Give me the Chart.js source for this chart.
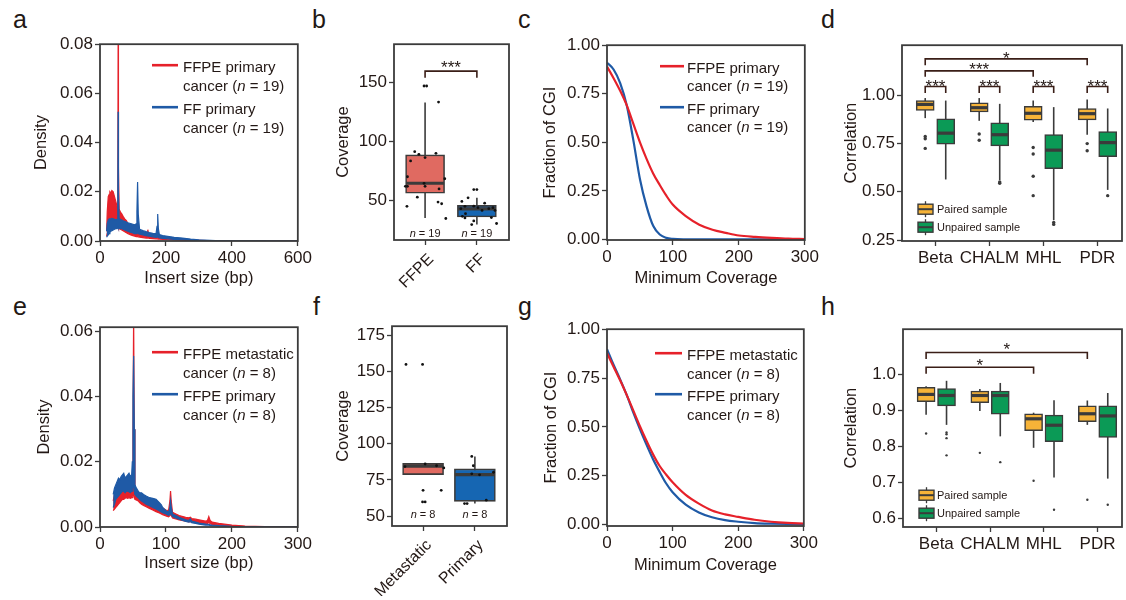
<!DOCTYPE html>
<html lang="en">
<head>
<meta charset="utf-8">
<title>Figure</title>
<script src="https://cdn.jsdelivr.net/npm/chart.js@4.4.1/dist/chart.umd.min.js"></script>
<style>
  html, body { margin: 0; padding: 0; background: #fff; }
  body { position: relative; width: 1126px; height: 600px; overflow: hidden; font-family: "Liberation Sans", Arial, sans-serif; }
  canvas { position: absolute; }
  .letra { position: absolute; font-size: 25px; line-height: 25px; color: #231815; }
</style>
</head>
<body>
<div class="letra" style="left:13px;top:7px">a</div>
<div class="letra" style="left:312px;top:7px">b</div>
<div class="letra" style="left:518px;top:7px">c</div>
<div class="letra" style="left:821px;top:7px">d</div>
<div class="letra" style="left:13px;top:294px">e</div>
<div class="letra" style="left:313px;top:294px">f</div>
<div class="letra" style="left:518px;top:294px">g</div>
<div class="letra" style="left:821px;top:294px">h</div>
<script>
/* ---------- a: insert size, FFPE vs FF ---------- */
const aX = [20, 22, 25, 28, 30, 33, 36, 40, 44, 48, 52, 54, 55, 56, 58, 62, 66, 70, 75, 80, 85, 90, 95, 100, 105,
  110, 112, 114, 116, 120, 130, 140, 143, 145, 147, 150, 160, 170, 173, 175, 177, 180, 190, 200, 225, 250, 275, 300, 350, 400, 600];
const aFfpeHi = [0.004, 0.012, 0.018, 0.019, 0.02, 0.0195, 0.0205, 0.02, 0.018, 0.016, 0.014, 0.02, 0.085, 0.03, 0.013,
  0.0117, 0.011, 0.01, 0.009, 0.0083, 0.007, 0.006, 0.005, 0.0045, 0.004, 0.0036, 0.0035, 0.0035, 0.0034, 0.0032,
  0.0028, 0.0026, 0.0035, 0.0046, 0.003, 0.0024, 0.002, 0.0018, 0.0018, 0.0018, 0.0017, 0.0016, 0.0014, 0.0012,
  0.0008, 0.0006, 0.0004, 0.0003, 0.0001, 0.00005, 0];
const aFfpeLo = [0.002, 0.003, 0.004, 0.0045, 0.005, 0.005, 0.0055, 0.0055, 0.0055, 0.0055, 0.0055, 0.0055, 0.006, 0.0055, 0.005,
  0.0048, 0.0045, 0.0042, 0.0038, 0.0034, 0.003, 0.0027, 0.0024, 0.0022, 0.002, 0.0018, 0.0018, 0.0018, 0.0017, 0.0016,
  0.0014, 0.0012, 0.0012, 0.0013, 0.0012, 0.0011, 0.001, 0.0009, 0.0009, 0.0009, 0.0008, 0.0008, 0.0007, 0.0006,
  0.0004, 0.0003, 0.0002, 0.0001, 0, 0, 0];
const aFfHi = [0.004, 0.007, 0.0085, 0.009, 0.0088, 0.009, 0.0092, 0.009, 0.0088, 0.0086, 0.0088, 0.015, 0.0525, 0.02, 0.0092,
  0.0088, 0.0085, 0.0082, 0.008, 0.0077, 0.0074, 0.0072, 0.007, 0.0068, 0.0066, 0.007, 0.012, 0.024, 0.011, 0.0048,
  0.0042, 0.0038, 0.0037, 0.0036, 0.0035, 0.0034, 0.0031, 0.003, 0.006, 0.011, 0.005, 0.0026, 0.0022, 0.002,
  0.0015, 0.0012, 0.0008, 0.0005, 0.0002, 0.00005, 0];
const aFfLo = [0.0015, 0.002, 0.0025, 0.003, 0.0035, 0.004, 0.0042, 0.0045, 0.0048, 0.005, 0.005, 0.005, 0.006, 0.0055, 0.0052,
  0.005, 0.005, 0.0048, 0.0045, 0.0042, 0.004, 0.0037, 0.0035, 0.0033, 0.003, 0.003, 0.0035, 0.004, 0.003, 0.0028,
  0.0025, 0.0022, 0.0021, 0.0021, 0.002, 0.002, 0.0017, 0.0015, 0.0016, 0.002, 0.0015, 0.0013, 0.0011, 0.001,
  0.0007, 0.0005, 0.0003, 0.0002, 0.0001, 0, 0];
const aLegenda = [["FFPE primary", "cancer (n = 19)"], ["FF primary", "cancer (n = 19)"]];
const aTicksX = [0, 200, 400, 600];
const aTicksY = [0, 0.02, 0.04, 0.06, 0.08];

/* ---------- b: coverage FFPE vs FF ---------- */
const bCats = ["FFPE", "FF"];
const bLo = [35.2, 29.6];
const bQ1 = [56.1, 36];
const bMed = [64.6, 42.8];
const bQ3 = [88.6, 45.8];
const bHi = [133, 52.2];
const bPtsFfpe = [[-0.2, 91.3], [-0.12, 89.1], [0.21, 89.9], [-0.28, 83.5], [0, 86.3], [-0.34, 70.1], [-0.34, 62], [-0.38, 62],
  [-0.02, 64.5], [0, 62], [0.38, 68.4], [0.27, 59.8], [-0.15, 52.8], [-0.35, 45], [0.25, 48.6], [0.32, 47.2], [0.4, 34.7],
  [0.26, 133.4], [-0.02, 147], [0.03, 147]];
const bPtsFf = [[-0.06, 59.2], [0, 59.2], [-0.29, 49.2], [-0.17, 52.2], [-0.06, 45.2], [-0.23, 45], [-0.31, 43], [0.02, 43.9],
  [0.15, 47.7], [0.23, 43], [0.31, 43.9], [0.35, 41.6], [0.1, 41.6], [-0.22, 38.8], [-0.28, 36.6], [-0.23, 35.2],
  [-0.06, 32.7], [-0.1, 29.6], [0.28, 35.5], [0.38, 30.5]];
const bN = ["n = 19", "n = 19"];
const bTicksY = [50, 100, 150];

/* ---------- c: fraction of CGI, FFPE vs FF ---------- */
const cX = [0, 10, 20, 30, 40, 50, 60, 70, 80, 90, 100, 120, 140, 160, 180, 200, 225, 250, 275, 300];
const cFfpe = [0.89, 0.83, 0.765, 0.69, 0.595, 0.5, 0.415, 0.34, 0.28, 0.225, 0.178, 0.119, 0.076, 0.05, 0.034, 0.02, 0.013, 0.008, 0.004, 0.002];
const cFf = [0.91, 0.875, 0.805, 0.69, 0.51, 0.31, 0.17, 0.07, 0.025, 0.008, 0.003, 0.0005, 0, 0, 0, 0, 0, 0, 0, 0];
const cTicksX = [0, 100, 200, 300];
const cTicksY = [0, 0.25, 0.5, 0.75, 1];

/* ---------- d: correlation, primary ---------- */
const dCats = ["Beta", "CHALM", "MHL", "PDR"];
const dPairLo = [0.882, 0.868, 0.862, 0.796];
const dPairQ1 = [0.922, 0.914, 0.872, 0.873];
const dPairMed = [0.953, 0.936, 0.907, 0.905];
const dPairQ3 = [0.973, 0.961, 0.943, 0.931];
const dPairHi = [0.986, 0.986, 0.973, 0.978];
const dPairOut = [[0, 0.787], [0, 0.775], [0, 0.725], [1, 0.8], [1, 0.767], [2, 0.73], [2, 0.696], [2, 0.581], [2, 0.48], [3, 0.75], [3, 0.713]];
const dUnpLo = [0.564, 0.561, 0.353, 0.51];
const dUnpQ1 = [0.747, 0.738, 0.62, 0.682];
const dUnpMed = [0.804, 0.796, 0.716, 0.755];
const dUnpQ3 = [0.878, 0.858, 0.797, 0.812];
const dUnpHi = [0.973, 0.956, 0.939, 0.932];
const dUnpOut = [[1, 0.551], [1, 0.544], [2, 0.341], [2, 0.331], [3, 0.48]];
const dTicksY = [0.25, 0.5, 0.75, 1];

/* ---------- e: insert size, metastatic vs primary ---------- */
const eX = [20, 22, 24, 26, 28, 30, 32, 34, 36, 38, 40, 42, 44, 46, 48, 49, 50, 51, 52, 53, 55, 58, 60, 63, 66, 70, 75, 80, 85, 90, 93,
  95, 100, 104, 106, 107, 108, 110, 115, 120, 130, 135, 137, 139, 145, 150, 160, 163, 165, 167, 170, 180, 200, 220, 250, 300];
const eMetaHi = [0.008, 0.01, 0.011, 0.0115, 0.012, 0.0118, 0.012, 0.0125, 0.012, 0.0118, 0.012, 0.0115, 0.012, 0.011, 0.0115, 0.013,
  0.03, 0.065, 0.03, 0.012, 0.011, 0.0105, 0.01, 0.0095, 0.009, 0.0085, 0.008, 0.0075, 0.007, 0.0065, 0.006,
  0.0058, 0.0052, 0.005, 0.008, 0.011, 0.008, 0.0045, 0.004, 0.0035, 0.003, 0.0028, 0.003, 0.0026, 0.0024, 0.0022,
  0.0018, 0.002, 0.0032, 0.002, 0.0015, 0.0011, 0.0006, 0.0003, 0.0001, 0];
const eMetaLo = [0.005, 0.0055, 0.006, 0.0065, 0.007, 0.0075, 0.008, 0.0085, 0.0085, 0.0088, 0.009, 0.0088, 0.009, 0.0088, 0.009, 0.009,
  0.0095, 0.01, 0.0095, 0.0085, 0.0083, 0.008, 0.0075, 0.007, 0.0066, 0.0062, 0.0057, 0.0052, 0.0047, 0.0043, 0.004,
  0.0038, 0.0034, 0.0031, 0.0035, 0.005, 0.0035, 0.0028, 0.0025, 0.0022, 0.0018, 0.0016, 0.0017, 0.0015, 0.0013, 0.0012,
  0.001, 0.001, 0.0015, 0.001, 0.0008, 0.0006, 0.0003, 0.0001, 0, 0];
const ePrimHi = [0.01, 0.012, 0.013, 0.014, 0.015, 0.0145, 0.0155, 0.016, 0.0165, 0.015, 0.0155, 0.016, 0.0165, 0.0155, 0.016, 0.02,
  0.04, 0.0525, 0.03, 0.013, 0.012, 0.011, 0.0105, 0.0105, 0.01, 0.0095, 0.009, 0.0088, 0.0085, 0.0075, 0.0068,
  0.006, 0.005, 0.0045, 0.006, 0.008, 0.006, 0.004, 0.0035, 0.003, 0.0022, 0.002, 0.0025, 0.0018, 0.0015, 0.0012,
  0.0009, 0.0008, 0.0008, 0.0007, 0.0006, 0.0004, 0.0002, 0.0001, 0, 0];
const ePrimLo = [0.006, 0.007, 0.0085, 0.009, 0.0095, 0.01, 0.0105, 0.011, 0.011, 0.0105, 0.011, 0.011, 0.0108, 0.0105, 0.011, 0.011,
  0.012, 0.013, 0.012, 0.01, 0.0095, 0.009, 0.0085, 0.008, 0.0076, 0.007, 0.0065, 0.006, 0.0055, 0.005, 0.0046,
  0.0044, 0.004, 0.0036, 0.0038, 0.0045, 0.0038, 0.0032, 0.0028, 0.0024, 0.0017, 0.0015, 0.0017, 0.0013, 0.0011, 0.0009,
  0.0006, 0.0006, 0.0006, 0.0005, 0.0004, 0.0003, 0.0001, 0, 0, 0];
const eLegenda = [["FFPE metastatic", "cancer (n = 8)"], ["FFPE primary", "cancer (n = 8)"]];
const eTicksX = [0, 100, 200, 300];
const eTicksY = [0, 0.02, 0.04, 0.06];

/* ---------- f: coverage metastatic vs primary ---------- */
const fCats = ["Metastatic", "Primary"];
const fLo = [79.2, 58.7];
const fQ1 = [78.7, 60.2];
const fMed = [84.5, 78.6];
const fQ3 = [86.4, 82.6];
const fHi = [86.4, 91.2];
const fPtsMeta = [[-0.33, 154.7], [-0.01, 154.7], [-0.35, 84.2], [0.04, 86], [0.26, 84.8], [0.4, 83.3], [0, 67.8], [0.35, 67.8],
  [-0.01, 59.8], [0.04, 59.8]];
const fPtsPrim = [[-0.06, 91.2], [-0.03, 84.8], [-0.06, 79.2], [0.09, 78.5], [0.36, 80.3], [0.22, 61], [-0.2, 58.7], [-0.15, 58.7]];
const fN = ["n = 8", "n = 8"];
const fTicksY = [50, 75, 100, 125, 150, 175];

/* ---------- g: fraction of CGI, metastatic vs primary ---------- */
const gX = [0, 10, 20, 30, 40, 50, 60, 70, 80, 90, 100, 120, 140, 160, 180, 200, 225, 250, 275, 300];
const gMeta = [0.88, 0.81, 0.74, 0.665, 0.585, 0.505, 0.43, 0.36, 0.3, 0.255, 0.215, 0.15, 0.105, 0.07, 0.05, 0.037, 0.022, 0.012, 0.006, 0.003];
const gPrim = [0.9, 0.82, 0.745, 0.665, 0.575, 0.49, 0.41, 0.335, 0.27, 0.21, 0.164, 0.1, 0.06, 0.035, 0.02, 0.012, 0.005, 0.002, 0.0005, 0];

/* ---------- h: correlation, metastatic ---------- */
const hPairLo = [0.888, 0.899, 0.796, 0.86];
const hPairQ1 = [0.925, 0.922, 0.844, 0.869];
const hPairMed = [0.945, 0.942, 0.877, 0.891];
const hPairQ3 = [0.965, 0.954, 0.891, 0.913];
const hPairHi = [0.968, 0.96, 0.894, 0.928];
const hPairOut = [[0, 0.836], [1, 0.782], [2, 0.704], [3, 0.651]];
const hUnpLo = [0.86, 0.828, 0.713, 0.71];
const hUnpQ1 = [0.913, 0.89, 0.813, 0.825];
const hUnpMed = [0.942, 0.942, 0.859, 0.885];
const hUnpQ3 = [0.961, 0.954, 0.887, 0.913];
const hUnpHi = [0.983, 0.977, 0.929, 0.949];
const hUnpOut = [[0, 0.839], [0, 0.834], [0, 0.823], [0, 0.775], [1, 0.756], [2, 0.623], [3, 0.637]];
const hTicksY = [0.6, 0.7, 0.8, 0.9, 1];
const caixaLegenda = ["Paired sample", "Unpaired sample"];

/* ---------- estilo ---------- */
const tinta = "#231815";
const borda = "#3b3b3b";
const chaveCor = "#3a1e17";
const vermelho = "#E6212A";
const azul = "#1F5AA6";
const salmao = "#E06A61";
const azulCaixa = "#1666B2";
const laranja = "#F6B338";
const verde = "#0B9A56";
const familia = '"Liberation Sans", Arial, sans-serif';
const desvio = 0.19; // paired / unpaired offset inside a category

Chart.defaults.font.family = familia;
Chart.defaults.font.size = 17;
Chart.defaults.color = tinta;
Chart.defaults.animation = false;
Chart.defaults.plugins.legend.display = false;
Chart.defaults.plugins.tooltip.enabled = false;

// caixa em volta da área do gráfico
Chart.register({
  id: "moldura",
  afterDatasetsDraw(chart) {
    const a = chart.chartArea, ctx = chart.ctx;
    ctx.save();
    ctx.strokeStyle = borda;
    ctx.lineWidth = 1.8;
    ctx.strokeRect(a.left, a.top, a.right - a.left, a.bottom - a.top);
    ctx.restore();
  }
});

function eixo(min, max, ticks, fmt, titulo) {
  return {
    type: "linear", min, max, offset: false,
    afterBuildTicks: s => { s.ticks = ticks.map(v => ({ value: v })); },
    ticks: { callback: fmt, autoSkip: false, maxRotation: 0, padding: 2, color: tinta, font: { size: 17 } },
    grid: { display: true, offset: false, drawOnChartArea: false, drawTicks: true, tickLength: 5, tickColor: borda, tickWidth: 1.3 },
    border: { display: false },
    title: titulo ? { display: true, text: titulo, padding: 0, color: tinta, font: { size: 16.5 } } : { display: false }
  };
}

// eixo de categorias com rótulos inclinados (b, f)
function eixoInclinado(nomes) {
  const e = eixo(-0.6, 1.62, [0, 1], v => nomes[v]);
  e.ticks.minRotation = 45;
  e.ticks.maxRotation = 45;
  e.ticks.padding = 5;
  e.ticks.labelOffset = 6;
  e.ticks.font = { size: 16 };
  return e;
}

function painel(area, yw, xh, config, pr = 16) {
  const pt = 10;
  const largura = area.R - area.L + yw + pr;
  const altura = area.B - area.T + pt + xh;
  const canvas = document.createElement("canvas");
  canvas.width = largura;
  canvas.height = altura;
  canvas.style.left = (area.L - yw) + "px";
  canvas.style.top = (area.T - pt) + "px";
  document.body.appendChild(canvas);
  config.options.responsive = false;
  config.options.devicePixelRatio = 1;
  config.options.layout = { padding: { left: 0, top: pt, right: pr, bottom: 0 } };
  config.options.scales.x.afterFit = s => { s.height = xh; };
  config.options.scales.y.afterFit = s => { s.width = yw; };
  return new Chart(canvas, config);
}

/* ---------- helpers de desenho ---------- */
// texto com o "n" em itálico
function textoMisto(ctx, s, x, y, tam, alinhar) {
  const partes = s.split(/(\bn\b(?= =))/);
  const fonte = it => `${it ? "italic " : ""}${tam}px ${familia}`;
  let w = 0;
  partes.forEach(p => { ctx.font = fonte(p === "n"); w += ctx.measureText(p).width; });
  let cx = alinhar === "center" ? x - w / 2 : x;
  ctx.fillStyle = tinta;
  ctx.textAlign = "left";
  ctx.textBaseline = "alphabetic";
  partes.forEach(p => {
    ctx.font = fonte(p === "n");
    ctx.fillText(p, cx, y);
    cx += ctx.measureText(p).width;
  });
}

function faixa(xs, hi, lo, cor, ordem) {
  const linha = { borderColor: cor, borderWidth: 1.2, pointRadius: 0, tension: 0, order: ordem };
  return [
    { ...linha, data: xs.map((x, i) => ({ x, y: hi[i] })), fill: "+1", backgroundColor: cor },
    { ...linha, data: xs.map((x, i) => ({ x, y: lo[i] })), fill: false }
  ];
}

function curva(xs, ys, cor) {
  return { data: xs.map((x, i) => ({ x, y: ys[i] })), borderColor: cor, borderWidth: 2.2, pointRadius: 0, cubicInterpolationMode: "monotone" };
}

function legendaLinhas(itens, cores, pos) {
  return {
    id: "legendaLinhas",
    afterDraw(chart) {
      const { ctx, chartArea: a } = chart;
      ctx.save();
      itens.forEach((linhas, k) => {
        const y0 = a.top + pos.y + k * pos.passo;
        ctx.strokeStyle = cores[k];
        ctx.lineWidth = 2.6;
        ctx.beginPath();
        ctx.moveTo(a.left + pos.x0, y0 - 1);
        ctx.lineTo(a.left + pos.x1, y0 - 1);
        ctx.stroke();
        linhas.forEach((t, j) => textoMisto(ctx, t, a.left + pos.tx, y0 + j * pos.linha + 5.4, 15));
      });
      ctx.restore();
    }
  };
}

// bigodes antes das caixas, mediana logo depois de cada conjunto de caixas
function caixas(grupos) {
  return {
    id: "caixas",
    beforeDatasetsDraw(chart) {
      const { ctx, scales: { x, y } } = chart;
      ctx.save();
      ctx.strokeStyle = borda;
      ctx.lineWidth = 1.6;
      grupos.forEach(g => g.xs.forEach((v, i) => {
        const px = x.getPixelForValue(v);
        ctx.beginPath();
        ctx.moveTo(px, y.getPixelForValue(g.lo[i]));
        ctx.lineTo(px, y.getPixelForValue(g.hi[i]));
        ctx.stroke();
      }));
      ctx.restore();
    },
    afterDatasetDraw(chart, args) {
      const g = grupos.find(q => q.dataset === args.index);
      if (!g) return;
      const { ctx, scales: { x, y } } = chart;
      ctx.save();
      ctx.strokeStyle = borda;
      ctx.lineWidth = 3.2;
      g.xs.forEach((v, i) => {
        const px = x.getPixelForValue(v), py = y.getPixelForValue(g.med[i]);
        ctx.beginPath();
        ctx.moveTo(px - g.largura / 2 + 0.5, py);
        ctx.lineTo(px + g.largura / 2 - 0.5, py);
        ctx.stroke();
      });
      ctx.restore();
    }
  };
}

function chaves(lista) {
  return {
    id: "chaves",
    afterDatasetsDraw(chart) {
      const { ctx, scales: { x, y } } = chart;
      ctx.save();
      ctx.strokeStyle = chaveCor;
      ctx.lineWidth = 1.6;
      ctx.fillStyle = tinta;
      ctx.font = `17px ${familia}`;
      ctx.textAlign = "center";
      ctx.textBaseline = "alphabetic";
      lista.forEach(c => {
        const x1 = x.getPixelForValue(c.x1), x2 = x.getPixelForValue(c.x2);
        const yl = y.getPixelForValue(c.y), yt = y.getPixelForValue(c.tip);
        ctx.beginPath();
        ctx.moveTo(x1, yt); ctx.lineTo(x1, yl); ctx.lineTo(x2, yl); ctx.lineTo(x2, yt);
        ctx.stroke();
        ctx.fillText(c.label, (x1 + x2) / 2, y.getPixelForValue(c.ly) + 10);
      });
      ctx.restore();
    }
  };
}

function rotulosN(textos, dy) {
  return {
    id: "rotulosN",
    afterDatasetsDraw(chart) {
      const { ctx, chartArea: a, scales: { x } } = chart;
      ctx.save();
      textos.forEach((t, i) => textoMisto(ctx, t, x.getPixelForValue(i), a.bottom - dy + 4, 11, "center"));
      ctx.restore();
    }
  };
}

function legendaCaixas(textos, cores, pos) {
  return {
    id: "legendaCaixas",
    afterDraw(chart) {
      const { ctx, chartArea: a } = chart;
      ctx.save();
      textos.forEach((t, k) => {
        const yc = a.top + pos.y + k * pos.passo, x0 = a.left + pos.x;
        ctx.strokeStyle = borda;
        ctx.lineWidth = 1.3;
        ctx.beginPath();
        ctx.moveTo(x0 + 7.5, yc - 8); ctx.lineTo(x0 + 7.5, yc + 8);
        ctx.stroke();
        ctx.fillStyle = cores[k];
        ctx.fillRect(x0, yc - 5, 15, 10);
        ctx.lineWidth = 1.4;
        ctx.strokeRect(x0, yc - 5, 15, 10);
        ctx.lineWidth = 2;
        ctx.beginPath();
        ctx.moveTo(x0, yc); ctx.lineTo(x0 + 15, yc);
        ctx.stroke();
        ctx.fillStyle = tinta;
        ctx.font = `11px ${familia}`;
        ctx.textAlign = "left";
        ctx.textBaseline = "alphabetic";
        ctx.fillText(t, a.left + pos.tx, yc + 4);
      });
      ctx.restore();
    }
  };
}

const pontos = (lista, base) => lista.map(([dx, v]) => ({ x: base + dx, y: v }));
const outliers = (lista, dx) => lista.map(([i, v]) => ({ x: i + dx, y: v }));
const fmt2 = v => v.toFixed(2);
const fmt1 = v => v.toFixed(1);
const fmt0 = v => String(v);

/* ---------- a ---------- */
painel({ L: 100, T: 42, R: 298, B: 241 }, 68, 47, {
  type: "line",
  data: { datasets: [...faixa(aX, aFfpeHi, aFfpeLo, vermelho, 2), ...faixa(aX, aFfHi, aFfLo, azul, 1)] },
  options: {
    scales: {
      x: eixo(0, 600, aTicksX, fmt0, "Insert size (bp)"),
      y: eixo(0, 0.08, aTicksY, fmt2, "Density")
    }
  },
  plugins: [legendaLinhas(aLegenda, [vermelho, azul], { x0: 52, x1: 78, tx: 83, y: 22, linha: 19, passo: 42 })]
});

/* ---------- b ---------- */
painel({ L: 394, T: 42, R: 509, B: 240 }, 60, 52, {
  type: "bar",
  data: {
    datasets: [
      { type: "scatter", order: 1, data: [...pontos(bPtsFfpe, 0), ...pontos(bPtsFf, 1)], pointRadius: 1.4, backgroundColor: "#111", borderWidth: 0 },
      { type: "bar", order: 2, grouped: false, barThickness: 39, borderSkipped: false, borderWidth: 1.6, borderColor: borda,
        backgroundColor: [salmao, azulCaixa], data: bCats.map((c, i) => ({ x: i, y: [bQ1[i], bQ3[i]] })) }
    ]
  },
  options: {
    scales: { x: eixoInclinado(bCats), y: eixo(16.5, 182.4, bTicksY, fmt0, "Coverage") }
  },
  plugins: [
    caixas([{ dataset: 1, xs: [0, 1], lo: bLo, hi: bHi, med: bMed, largura: 39 }]),
    chaves([{ x1: 0, x2: 1, y: 159.6, tip: 154, ly: 166.5, label: "***" }]),
    rotulosN(bN, 7.5)
  ]
});

/* ---------- c ---------- */
painel({ L: 607, T: 43, R: 805, B: 240 }, 66, 48, {
  type: "line",
  data: { datasets: [curva(cX, cFfpe, vermelho), curva(cX, cFf, azul)] },
  options: {
    scales: {
      x: eixo(0, 300, cTicksX, fmt0, "Minimum Coverage"),
      y: eixo(-0.003, 1, cTicksY, fmt2, "Fraction of CGI")
    }
  },
  plugins: [legendaLinhas(aLegenda, [vermelho, azul], { x0: 53, x1: 77, tx: 80, y: 22, linha: 18, passo: 41 })]
});

/* ---------- d ---------- */
function correlacao(area, yw, min, max, ticks, fmt, s, brackets, leg) {
  return painel(area, yw, 30, {
    type: "bar",
    data: {
      datasets: [
        { type: "scatter", order: 1, data: [...outliers(s.pairOut, -desvio), ...outliers(s.unpOut, desvio)],
          pointRadius: s.raio, backgroundColor: borda, borderWidth: 0 },
        { type: "bar", order: 2, grouped: false, barThickness: 18, borderSkipped: false, borderWidth: 1.5, borderColor: borda,
          backgroundColor: laranja, data: dCats.map((c, i) => ({ x: i - desvio, y: [s.pairQ1[i], s.pairQ3[i]] })) },
        { type: "bar", order: 2, grouped: false, barThickness: 18, borderSkipped: false, borderWidth: 1.5, borderColor: borda,
          backgroundColor: verde, data: dCats.map((c, i) => ({ x: i + desvio, y: [s.unpQ1[i], s.unpQ3[i]] })) }
      ]
    },
    options: {
      scales: {
        x: eixo(-0.62, 3.455, [0, 1, 2, 3], v => dCats[v]),
        y: eixo(min, max, ticks, fmt, "Correlation")
      }
    },
    plugins: [
      caixas([
        { dataset: 1, xs: dCats.map((c, i) => i - desvio), lo: s.pairLo, hi: s.pairHi, med: s.pairMed, largura: 18 },
        { dataset: 2, xs: dCats.map((c, i) => i + desvio), lo: s.unpLo, hi: s.unpHi, med: s.unpMed, largura: 18 }
      ]),
      chaves(brackets),
      legendaCaixas(caixaLegenda, [laranja, verde], leg)
    ]
  }, 1);
}

const parD = dCats.map((c, i) => ({ x1: i - desvio, x2: i + desvio, y: 1.046, tip: 1.012, ly: 1.071, label: "***" }));
correlacao({ L: 902, T: 43, R: 1125, B: 241 }, 60, 0.245, 1.26, dTicksY, fmt2, {
  pairLo: dPairLo, pairQ1: dPairQ1, pairMed: dPairMed, pairQ3: dPairQ3, pairHi: dPairHi, pairOut: dPairOut,
  unpLo: dUnpLo, unpQ1: dUnpQ1, unpMed: dUnpMed, unpQ3: dUnpQ3, unpHi: dUnpHi, unpOut: dUnpOut, raio: 1.7
}, [
  ...parD,
  { x1: -desvio, x2: 2 - desvio, y: 1.127, tip: 1.096, ly: 1.155, label: "***" },
  { x1: -desvio, x2: 3 - desvio, y: 1.189, tip: 1.156, ly: 1.214, label: "*" }
], { x: 16, tx: 35, y: 164, passo: 18 });

/* ---------- e ---------- */
painel({ L: 100, T: 325, R: 298, B: 527 }, 65, 46, {
  type: "line",
  data: { datasets: [...faixa(eX, eMetaHi, eMetaLo, vermelho, 2), ...faixa(eX, ePrimHi, ePrimLo, azul, 1)] },
  options: {
    scales: {
      x: eixo(0, 300, eTicksX, fmt0, "Insert size (bp)"),
      y: eixo(0, 0.0613, eTicksY, fmt2, "Density")
    }
  },
  plugins: [legendaLinhas(eLegenda, [vermelho, azul], { x0: 52, x1: 78, tx: 83, y: 26, linha: 19, passo: 42 })]
});

/* ---------- f ---------- */
painel({ L: 392, T: 324, R: 507, B: 526 }, 58, 70, {
  type: "bar",
  data: {
    datasets: [
      { type: "scatter", order: 1, data: [...pontos(fPtsMeta, 0), ...pontos(fPtsPrim, 1)], pointRadius: 1.4, backgroundColor: "#111", borderWidth: 0 },
      { type: "bar", order: 2, grouped: false, barThickness: 41, borderSkipped: false, borderWidth: 1.6, borderColor: borda,
        backgroundColor: [salmao, azulCaixa], data: fCats.map((c, i) => ({ x: i, y: [fQ1[i], fQ3[i]] })) }
    ]
  },
  options: {
    scales: { x: eixoInclinado(fCats), y: eixo(43.2, 181.1, fTicksY, fmt0, "Coverage") }
  },
  plugins: [
    caixas([{ dataset: 1, xs: [0, 1], lo: fLo, hi: fHi, med: fMed, largura: 41 }]),
    rotulosN(fN, 12)
  ]
});

/* ---------- g ---------- */
painel({ L: 607, T: 327, R: 804, B: 526 }, 65, 49, {
  type: "line",
  data: { datasets: [curva(gX, gMeta, vermelho), curva(gX, gPrim, azul)] },
  options: {
    scales: {
      x: eixo(0, 300, cTicksX, fmt0, "Minimum Coverage"),
      y: eixo(-0.01, 1.003, cTicksY, fmt2, "Fraction of CGI")
    }
  },
  plugins: [legendaLinhas(eLegenda, [vermelho, azul], { x0: 48, x1: 75, tx: 80, y: 25, linha: 19, passo: 41 })]
});

/* ---------- h ---------- */
correlacao({ L: 903, T: 327, R: 1125, B: 527 }, 61, 0.575, 1.127, hTicksY, fmt1, {
  pairLo: hPairLo, pairQ1: hPairQ1, pairMed: hPairMed, pairQ3: hPairQ3, pairHi: hPairHi, pairOut: hPairOut,
  unpLo: hUnpLo, unpQ1: hUnpQ1, unpMed: hUnpMed, unpQ3: hUnpQ3, unpHi: hUnpHi, unpOut: hUnpOut, raio: 1.2
}, [
  { x1: -desvio, x2: 2 - desvio, y: 1.021, tip: 1.003, ly: 1.039, label: "*" },
  { x1: -desvio, x2: 3 - desvio, y: 1.062, tip: 1.044, ly: 1.084, label: "*" }
], { x: 16, tx: 34, y: 166, passo: 18 });
</script>
</body>
</html>
